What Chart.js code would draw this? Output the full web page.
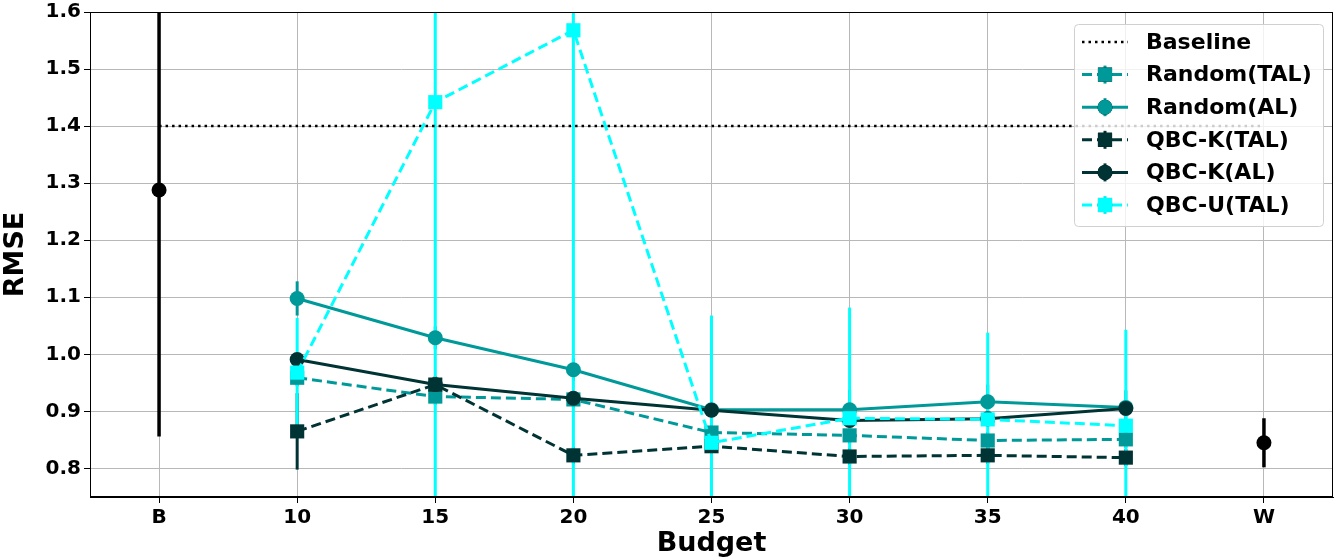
<!DOCTYPE html>
<html>
<head>
<meta charset="utf-8">
<script src="https://cdn.jsdelivr.net/npm/chart.js@4.4.1/dist/chart.umd.min.js"></script>
<style>
  html, body { margin: 0; padding: 0; background: #ffffff; overflow: hidden; }
  #wrap { width: 1343px; height: 560px; }
  canvas { display: block; }
</style>
</head>
<body>
<div id="wrap"><canvas id="rmseChart" width="1343" height="560"></canvas></div>
<script>
// categories and values
const budgets = ['B', '10', '15', '20', '25', '30', '35', '40', 'W'];
const yTicks = [0.8, 0.9, 1.0, 1.1, 1.2, 1.3, 1.4, 1.5, 1.6];

const baseline = [1.4, 1.4, 1.4, 1.4, 1.4, 1.4, 1.4, 1.4, 1.4];
const endPoints = [1.288, null, null, null, null, null, null, null, 0.845];
const endPointsErr = [0.432, null, null, null, null, null, null, null, 0.043];

const randomTAL = [null, 0.959, 0.926, 0.921, 0.863, 0.858, 0.849, 0.851, null];
const randomTALErr = [null, 0.015, 0.015, 0.015, 0.015, 0.015, 0.015, 0.015, null];
const randomAL = [null, 1.098, 1.029, 0.973, 0.903, 0.903, 0.917, 0.907, null];
const randomALErr = [null, 0.03, 0.02, 0.02, 0.03, 0.035, 0.03, 0.03, null];
const qbckTAL = [null, 0.865, 0.947, 0.823, 0.839, 0.821, 0.823, 0.819, null];
const qbckTALErr = [null, 0.067, 0.015, 0.015, 0.015, 0.015, 0.015, 0.015, null];
const qbckAL = [null, 0.991, 0.947, 0.923, 0.902, 0.884, 0.887, 0.905, null];
const qbckALErr = [null, 0.01, 0.01, 0.01, 0.01, 0.01, 0.01, 0.01, null];
const qbcuTAL = [null, 0.968, 1.442, 1.568, 0.845, 0.888, 0.886, 0.875, null];
const qbcuTALErr = [null, 0.096, 0.9, 0.9, 0.223, 0.194, 0.152, 0.168, null];

const TEAL = '#009999';
const DARK = '#003333';
const CYAN = '#00ffff';
const FONT = '"DejaVu Sans", sans-serif';

// vertical error bars, drawn under the markers
const errorBars = {
  id: 'errorBars',
  beforeDatasetsDraw(chart) {
    const { ctx, chartArea, scales } = chart;
    ctx.save();
    ctx.beginPath();
    ctx.rect(chartArea.left, chartArea.top, chartArea.right - chartArea.left, chartArea.bottom - chartArea.top);
    ctx.clip();
    // draw in the same order as the lines (higher order first)
    const sets = chart.data.datasets
      .map((ds, i) => ({ ds, i }))
      .filter(o => o.ds.errors)
      .sort((a, b) => b.ds.order - a.ds.order);
    sets.forEach(({ ds }) => {
      ctx.strokeStyle = ds.borderColor;
      ctx.lineWidth = ds.errorWidth || 3;
      ds.data.forEach((v, j) => {
        const e = ds.errors[j];
        if (v == null || e == null) return;
        const px = scales.x.getPixelForValue(j);
        ctx.beginPath();
        ctx.moveTo(px, scales.y.getPixelForValue(v + e));
        ctx.lineTo(px, scales.y.getPixelForValue(v - e));
        ctx.stroke();
      });
    });
    ctx.restore();
  },
  afterDatasetsDraw(chart) {
    // axes frame like matplotlib spines
    const { ctx, chartArea } = chart;
    ctx.save();
    ctx.strokeStyle = '#000000';
    ctx.lineWidth = 1;
    ctx.strokeRect(chartArea.left + 0.5, chartArea.top + 0.5,
      chartArea.right - chartArea.left - 1, chartArea.bottom - chartArea.top - 1);
    ctx.restore();
  }
};

// legend with line + marker + error tick samples
const sampleLegend = {
  id: 'sampleLegend',
  afterDraw(chart) {
    const ctx = chart.ctx;
    const box = { x: 1074, y: 24, w: 249, h: 202 };
    ctx.save();
    ctx.beginPath();
    ctx.roundRect(box.x + 0.5, box.y + 0.5, box.w, box.h, 4);
    ctx.fillStyle = 'rgba(255,255,255,0.8)';
    ctx.fill();
    ctx.strokeStyle = '#d0d0d0';
    ctx.lineWidth = 1;
    ctx.stroke();

    const entries = chart.data.datasets.filter(ds => ds.inLegend);
    entries.forEach((ds, k) => {
      const cy = 42 + k * 32.6;
      const x0 = 1082, x1 = 1128, cx = 1105;
      ctx.strokeStyle = ds.borderColor;
      ctx.lineWidth = ds.borderWidth;
      ctx.setLineDash(ds.borderDash || []);
      ctx.beginPath();
      ctx.moveTo(x0, cy);
      ctx.lineTo(x1, cy);
      ctx.stroke();
      ctx.setLineDash([]);
      if (ds.errors) {
        ctx.lineWidth = 3;
        ctx.beginPath();
        ctx.moveTo(cx, cy - 9);
        ctx.lineTo(cx, cy + 9);
        ctx.stroke();
      }
      if (ds.pointRadius > 0) {
        Chart.helpers.drawPoint(ctx, {
          pointStyle: ds.pointStyle, radius: ds.pointRadius, borderWidth: 0
        }, cx, cy);
        ctx.fillStyle = ds.pointBackgroundColor;
        ctx.fill();
      }
      ctx.fillStyle = '#000000';
      ctx.font = 'bold 22px ' + FONT;
      ctx.textBaseline = 'middle';
      ctx.textAlign = 'left';
      ctx.fillText(ds.label, 1146, cy + 1);
    });
    ctx.restore();
  }
};

function series(label, data, errors, color, style, dashed, order) {
  return {
    label: label,
    data: data,
    errors: errors,
    borderColor: color,
    backgroundColor: color,
    pointBackgroundColor: color,
    pointBorderColor: color,
    pointBorderWidth: 0,
    pointStyle: style,
    pointRadius: style === 'rect' ? 10 : 7.5,
    borderWidth: 3,
    borderDash: dashed ? [10, 5] : [],
    inLegend: true,
    order: order
  };
}

const datasets = [
  {
    label: 'Baseline',
    data: baseline,
    borderColor: '#000000',
    borderWidth: 2.5,
    borderDash: [2.5, 4],
    pointRadius: 0,
    inLegend: true,
    order: 7
  },
  series('Random(TAL)', randomTAL, randomTALErr, TEAL, 'rect', true, 6),
  series('Random(AL)', randomAL, randomALErr, TEAL, 'circle', false, 5),
  series('QBC-K(TAL)', qbckTAL, qbckTALErr, DARK, 'rect', true, 4),
  series('QBC-K(AL)', qbckAL, qbckALErr, DARK, 'circle', false, 3),
  series('QBC-U(TAL)', qbcuTAL, qbcuTALErr, CYAN, 'rect', true, 2),
  {
    label: 'ends',
    data: endPoints,
    errors: endPointsErr,
    errorWidth: 3.5,
    showLine: false,
    borderColor: '#000000',
    pointBackgroundColor: '#000000',
    pointBorderWidth: 0,
    pointRadius: 7.5,
    inLegend: false,
    order: 1
  }
];

new Chart(document.getElementById('rmseChart').getContext('2d'), {
  type: 'line',
  data: { labels: budgets, datasets: datasets },
  plugins: [errorBars, sampleLegend],
  options: {
    responsive: false,
    animation: false,
    layout: { padding: { top: 4, right: 8, left: 0, bottom: 0 } },
    plugins: {
      legend: { display: false },
      tooltip: { enabled: false }
    },
    scales: {
      x: {
        type: 'category',
        offset: true,
        grid: { offset: false, color: '#b8b8b8', lineWidth: 1, tickLength: 6, tickColor: '#000000' },
        border: { color: '#000000' },
        ticks: { color: '#000000', padding: 3, maxRotation: 0, font: { family: FONT, size: 20, weight: 'bold' } },
        title: {
          display: true, text: 'Budget', color: '#000000', padding: { top: 0, bottom: 0 },
          font: { family: FONT, size: 27, weight: 'bold' }
        },
        afterFit(scale) { scale.height = 63; }
      },
      y: {
        min: 0.75,
        max: 1.6,
        afterBuildTicks(scale) { scale.ticks = yTicks.map(v => ({ value: v })); },
        grid: { color: '#b8b8b8', lineWidth: 1, tickLength: 6, tickColor: '#000000' },
        border: { color: '#000000' },
        ticks: {
          color: '#000000', padding: 3,
          font: { family: FONT, size: 20, weight: 'bold', lineHeight: 0.9 },
          callback: v => v.toFixed(1)
        },
        title: {
          display: true, text: 'RMSE', color: '#000000', padding: { top: 0, bottom: 4 },
          font: { family: FONT, size: 27, weight: 'bold' }
        },
        afterFit(scale) { scale.width = 90; }
      }
    }
  }
});
</script>
</body>
</html>
